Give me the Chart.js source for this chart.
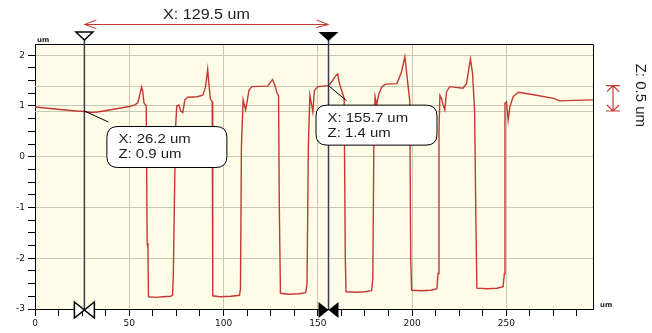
<!DOCTYPE html>
<html>
<head>
<meta charset="utf-8">
<script src="https://cdn.jsdelivr.net/npm/chart.js@4"></script>
<style>
  body { margin: 0; background: #fff; }
  canvas { display: block; }
</style>
</head>
<body>
<canvas id="profile-chart" width="652" height="333"></canvas>
<script>
// profile (x in um, z in um)
const profileX = [
  0, 8, 16, 22, 26.2, 30, 33, 38, 44, 50, 53, 54.5, 55.5, 56.5, 57.2, 57.8, 59, 59.5, 59.9, 60.2,
  64, 68, 72, 73, 73.4, 73.9, 74.6, 75.2, 76.3, 77.3, 78.4, 79.5, 81, 86, 89, 90.5, 91.6, 92.3, 93, 94,
  94.3, 98, 104, 108.5, 109, 109.5, 110.4, 111.7, 112.6, 113.5, 115, 123.5, 125, 126, 127.2, 128.4, 129.2, 129.6, 130.2,
  135, 140, 143.6, 144.3, 145, 145.8, 146.6, 147.4, 148.2, 150, 155.7, 157.5, 159.5, 160.6, 161.5, 162.7, 164, 164.6, 165,
  170, 175, 178.6, 179.2, 179.8, 180.4, 181.2, 182.3, 184, 186, 192, 194.4, 196.2, 197.6, 198.8, 199.3, 199.8,
  205, 210, 213.2, 213.8, 214.3, 214.8, 215.6, 216.5, 217.4, 218.3, 220, 227, 228.9, 230.3, 231, 232.1, 233.2, 233.8, 234.4,
  240, 245, 248.3, 249, 249.3, 250.1, 251, 251.9, 253.6, 256.3, 266, 275, 278.4, 286, 296
];
const profileZ = [
  0.98, 0.95, 0.92, 0.90, 0.89, 0.87, 0.88, 0.91, 0.95, 0.99, 1.02, 1.06, 1.2, 1.37, 1.28, 1.06, 1.0, -1.7, -1.8, -2.76,
  -2.77, -2.76, -2.75, -2.72, -2.3, -1.0, 0.6, 1.0, 1.02, 0.9, 0.87, 1.12, 1.17, 1.18, 1.21, 1.38, 1.72, 1.42, 1.14, 1.08,
  -2.74, -2.76, -2.75, -2.73, -2.6, 0.2, 1.12, 0.92, 1.1, 1.31, 1.38, 1.39, 1.47, 1.52, 1.42, 1.25, 1.2, -1.0, -2.69,
  -2.71, -2.70, -2.68, -2.5, 0.2, 1.21, 1.05, 0.88, 1.3, 1.38, 1.4, 1.48, 1.59, 1.63, 1.44, 1.3, 1.15, -2.0, -2.66,
  -2.67, -2.66, -2.64, -2.4, 0.5, 1.18, 1.02, 1.22, 1.38, 1.43, 1.44, 1.67, 1.97, 1.5, 1.1, -2.0, -2.63,
  -2.64, -2.63, -2.6, -2.3, 0.5, 1.21, 1.15, 1.02, 0.92, 1.28, 1.38, 1.35, 1.44, 1.77, 1.92, 1.64, 0.9, -1.0, -2.59,
  -2.60, -2.59, -2.56, -2.3, 1.05, 1.08, 0.72, 0.98, 1.18, 1.27, 1.21, 1.15, 1.10, 1.11, 1.12
];

// the two cursors and their readouts
const cursorX = [26.2, 155.7];
const cursorZ = [0.9, 1.4];
const deltaX = 129.5;
const deltaZ = 0.5;

// axis ticks
const xMajorTicks = [0, 50, 100, 150, 200, 250];
const yMajorTicks = [-3, -2, -1, 0, 1, 2];
const xMinorStep = 12.5;
const yMinorStep = 0.25;

const lineColor = "rgb(196, 56, 52)";
const gridColor = "#c9c8b2";
const cursorColor = "#3b3b58";

function isMajor(list, v) {
  return list.some((m) => Math.abs(m - v) < 1e-6);
}

function stretchText(ctx, text, x, y, align) {
  ctx.save();
  ctx.translate(x, y);
  ctx.scale(1.15, 1);
  ctx.textAlign = align || "left";
  ctx.fillText(text, 0, 0);
  ctx.restore();
}

function roundBox(ctx, x, y, w, h, r) {
  ctx.beginPath();
  ctx.moveTo(x + r, y);
  ctx.lineTo(x + w - r, y);
  ctx.quadraticCurveTo(x + w, y, x + w, y + r);
  ctx.lineTo(x + w, y + h - r);
  ctx.quadraticCurveTo(x + w, y + h, x + w - r, y + h);
  ctx.lineTo(x + r, y + h);
  ctx.quadraticCurveTo(x, y + h, x, y + h - r);
  ctx.lineTo(x, y + r);
  ctx.quadraticCurveTo(x, y, x + r, y);
  ctx.closePath();
}

function tri(ctx, pts, filled) {
  ctx.beginPath();
  ctx.moveTo(pts[0][0], pts[0][1]);
  ctx.lineTo(pts[1][0], pts[1][1]);
  ctx.lineTo(pts[2][0], pts[2][1]);
  ctx.closePath();
  if (filled) ctx.fill();
  else { ctx.fillStyle = "#fff"; ctx.fill(); ctx.stroke(); ctx.fillStyle = "#000"; }
}

const profilePlugin = {
  id: "profileDecor",
  beforeDraw(chart) {
    const { ctx, chartArea: a } = chart;
    ctx.save();
    ctx.fillStyle = "#fff";
    ctx.fillRect(0, 0, chart.width, chart.height);
    ctx.fillStyle = "rgb(255, 253, 231)";
    ctx.fillRect(a.left, a.top, a.right - a.left, a.bottom - a.top);
    ctx.restore();
  },
  beforeDatasetsDraw(chart) {
    const { ctx, chartArea: a, scales } = chart;
    ctx.save();
    ctx.strokeStyle = gridColor;
    ctx.lineWidth = 1;
    cursorZ.forEach((z) => {
      const py = Math.round(scales.y.getPixelForValue(z)) + 0.5;
      ctx.beginPath();
      ctx.moveTo(a.left, py);
      ctx.lineTo(a.right, py);
      ctx.stroke();
    });
    ctx.restore();
  },
  afterDraw(chart) {
    const { ctx, chartArea: a, scales } = chart;
    const xs = scales.x, ys = scales.y;
    const cx = cursorX.map((v) => xs.getPixelForValue(v));
    const cy = cursorZ.map((v) => ys.getPixelForValue(v));
    ctx.save();

    // frame top / right
    ctx.strokeStyle = "#000";
    ctx.lineWidth = 1;
    ctx.beginPath();
    ctx.moveTo(a.left, a.top + 0.5);
    ctx.lineTo(a.right + 0.5, a.top + 0.5);
    ctx.lineTo(a.right + 0.5, a.bottom);
    ctx.stroke();

    // cursor lines
    ctx.strokeStyle = cursorColor;
    ctx.lineWidth = 1.5;
    cx.forEach((x) => {
      ctx.beginPath();
      ctx.moveTo(x, a.top - 4);
      ctx.lineTo(x, a.bottom);
      ctx.stroke();
    });

    // top markers
    ctx.strokeStyle = "#000";
    ctx.fillStyle = "#000";
    ctx.lineWidth = 1.5;
    tri(ctx, [[cx[0] - 8.5, a.top - 12], [cx[0] + 8.5, a.top - 12], [cx[0], a.top - 4]], false);
    tri(ctx, [[cx[1] - 10, a.top - 12], [cx[1] + 10, a.top - 12], [cx[1], a.top - 3]], true);

    // bottom bowties
    const b = a.bottom + 1;
    [0, 1].forEach((i) => {
      const x = cx[i], f = i === 1;
      tri(ctx, [[x - 10, b - 8], [x - 10, b + 8], [x, b]], f);
      tri(ctx, [[x + 10, b - 8], [x + 10, b + 8], [x, b]], f);
    });

    // delta X arrow
    const ay = 24.5;
    ctx.strokeStyle = lineColor;
    ctx.lineWidth = 1;
    ctx.beginPath();
    ctx.moveTo(cx[0], ay);
    ctx.lineTo(cx[1], ay);
    ctx.moveTo(cx[0] + 12, ay - 4.5);
    ctx.lineTo(cx[0], ay);
    ctx.lineTo(cx[0] + 12, ay + 4);
    ctx.moveTo(cx[1] - 12, ay - 4.5);
    ctx.lineTo(cx[1], ay);
    ctx.lineTo(cx[1] - 12, ay + 3);
    ctx.stroke();

    ctx.fillStyle = "#1e1e1e";
    ctx.font = "14px 'Liberation Sans', Arial, sans-serif";
    ctx.textBaseline = "alphabetic";
    stretchText(ctx, "X: " + deltaX + " um", (cx[0] + cx[1]) / 2, 18.5, "center");

    // delta Z arrow on the right
    const zx = 613;
    ctx.strokeStyle = lineColor;
    ctx.lineWidth = 1.2;
    ctx.beginPath();
    ctx.moveTo(zx - 7, cy[1]); ctx.lineTo(zx + 7, cy[1]);
    ctx.moveTo(zx - 7, cy[0]); ctx.lineTo(zx + 7, cy[0]);
    ctx.moveTo(zx, cy[1]); ctx.lineTo(zx, cy[0]);
    ctx.moveTo(zx - 6, cy[1] + 6); ctx.lineTo(zx, cy[1]); ctx.lineTo(zx + 6, cy[1] + 6);
    ctx.moveTo(zx - 6, cy[0] - 6); ctx.lineTo(zx, cy[0]); ctx.lineTo(zx + 6, cy[0] - 6);
    ctx.stroke();

    ctx.save();
    ctx.translate(640, (cy[0] + cy[1]) / 2 - 3);
    ctx.rotate(Math.PI / 2);
    ctx.fillStyle = "#1e1e1e";
    ctx.font = "15px 'Liberation Sans', Arial, sans-serif";
    ctx.textAlign = "center";
    ctx.textBaseline = "middle";
    ctx.fillText("Z: " + deltaZ + " um", 0, 0);
    ctx.restore();

    // unit labels
    ctx.fillStyle = "#222";
    ctx.font = "bold 7px 'DejaVu Sans', sans-serif";
    ctx.textAlign = "left";
    ctx.fillText("um", 37, 42);
    ctx.fillText("um", 600, 307);

    // callouts
    const boxes = [
      { x: cx[0] + 22, y: cy[0] + 15, w: 120, h: 41, lx: cx[0] + 24, ly: cy[0] + 11 },
      { x: cx[1] - 13, y: cy[1] + 19, w: 121, h: 40, lx: cx[1] + 18, ly: cy[1] + 15 },
    ];
    boxes.forEach((bx, i) => {
      ctx.strokeStyle = "#000";
      ctx.lineWidth = 1;
      ctx.beginPath();
      ctx.moveTo(cx[i], cy[i]);
      ctx.lineTo(bx.lx, bx.ly);
      ctx.stroke();
      roundBox(ctx, bx.x + 0.5, bx.y + 0.5, bx.w, bx.h, 11);
      ctx.fillStyle = "#fff";
      ctx.fill();
      ctx.stroke();
      ctx.fillStyle = "#1e1e1e";
      ctx.font = "13px 'Liberation Sans', Arial, sans-serif";
      stretchText(ctx, "X: " + cursorX[i] + " um", bx.x + 12, bx.y + 17, "left");
      stretchText(ctx, "Z: " + cursorZ[i] + " um", bx.x + 12, bx.y + 32, "left");
    });

    ctx.restore();
  },
};

const tickFont = { family: "'DejaVu Sans', sans-serif", size: 9 };

const chartConfig = {
  type: "scatter",
  data: {
    datasets: [
      {
        data: profileX.map((x, i) => ({ x: x, y: profileZ[i] })),
        showLine: true,
        borderColor: lineColor,
        borderWidth: 1.4,
        pointRadius: 0,
        tension: 0,
      },
    ],
  },
  options: {
    responsive: false,
    animation: false,
    layout: { padding: { top: 44, right: 59, left: 0, bottom: 0 } },
    plugins: { legend: { display: false }, tooltip: { enabled: false } },
    scales: {
      x: {
        type: "linear",
        min: 0,
        max: 296,
        afterBuildTicks: (scale) => {
          const t = [];
          for (let v = 0; v < 296; v += xMinorStep) t.push({ value: v });
          scale.ticks = t;
        },
        afterFit: (scale) => { scale.height = 24; },
        ticks: {
          autoSkip: false,
          maxRotation: 0,
          padding: 2,
          font: tickFont,
          color: "#111",
          callback: (v) => (isMajor(xMajorTicks, v) ? String(v) : ""),
        },
        grid: {
          color: (c) => (c.tick && isMajor(xMajorTicks, c.tick.value) && c.tick.value > 0 ? gridColor : "rgba(0,0,0,0)"),
          tickColor: "#000",
          tickLength: 7,
          lineWidth: 1,
        },
        border: { display: true, color: "#000", width: 1 },
      },
      y: {
        type: "linear",
        min: -3,
        max: 2.22,
        afterBuildTicks: (scale) => {
          const t = [];
          for (let v = -3; v <= 2.0001; v += yMinorStep) t.push({ value: Math.round(v * 100) / 100 });
          scale.ticks = t;
        },
        afterFit: (scale) => { scale.width = 35; },
        ticks: {
          autoSkip: false,
          padding: 3,
          font: tickFont,
          color: "#111",
          callback: (v) => (isMajor(yMajorTicks, v) ? String(v) : ""),
        },
        grid: {
          color: (c) => (c.tick && isMajor(yMajorTicks, c.tick.value) && c.tick.value > -3 ? gridColor : "rgba(0,0,0,0)"),
          tickColor: "#000",
          tickLength: 7,
          lineWidth: 1,
        },
        border: { display: true, color: "#000", width: 1 },
      },
    },
  },
  plugins: [profilePlugin],
};

const myChart = new Chart(document.getElementById("profile-chart"), chartConfig);
</script>
</body>
</html>
